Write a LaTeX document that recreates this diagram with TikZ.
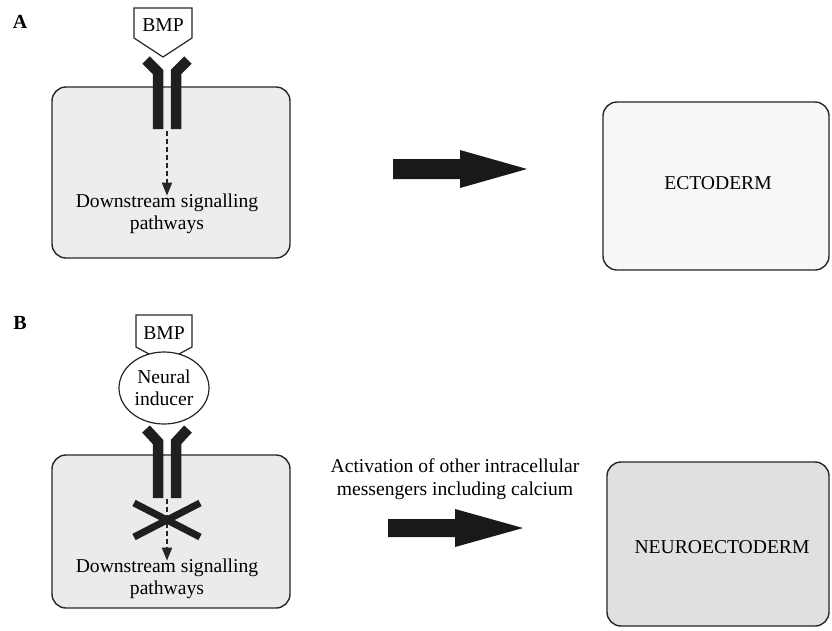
\documentclass[tikz,border=0pt]{standalone}
\usepackage{fontspec}
\setmainfont{Liberation Serif}
\usetikzlibrary{shapes.geometric,arrows.meta}
\begin{document}
\begin{tikzpicture}[x=1pt,y=-1pt,
  txt/.style={font=\fontsize{19.6}{22.5}\selectfont, align=center, inner sep=0pt},
  lbl/.style={font=\fontsize{20}{22}\selectfont\bfseries, inner sep=0pt},
  cell/.style={draw=black!85, line width=1.4pt, rounded corners=14pt, inner sep=0pt},
  rec/.style={line width=10.5pt, draw=black!88, line join=miter},
  outl/.style={draw=black!85, line width=1.2pt, fill=white},
  bigarrow/.style={fill=black!90, draw=none},
  dasharr/.style={draw=black!85, line width=1.9pt, dash pattern=on 5pt off 3pt, -{Triangle[length=13pt,width=10pt]}}
]
\useasboundingbox (0,0) rectangle (832,630);

% ---------- Panel A ----------
\node[lbl] (labA) at (20,22) {A};
\node[cell, fill=black!7, minimum width=238pt, minimum height=171pt] (cellA) at (171,172.5) {};
\node[cell, fill=black!3, minimum width=226pt, minimum height=168pt] (ectoA) at (716,186) {};
\node[txt] (ectoTxt) at (718,183) {ECTODERM};

\draw[outl] (134,8) -- (192,8) -- (192,38) -- (163,57) -- (134,38) -- cycle;
\node[txt] (bmpA) at (163,25) {BMP};

\draw[rec] (146,60) -- (158,72) -- (158,129);
\draw[rec] (188,60) -- (176,72) -- (176,129);

\coordinate (dsA) at (167,131);
\node[txt] (downA) at (167,214) {Downstream signalling\\pathways};
\draw[dasharr] (dsA) -- ([yshift=-2pt]downA.north);

\path[bigarrow] (393,159) -- (460,159) -- (460,150) -- (527,169) -- (460,188) -- (460,179) -- (393,179) -- cycle;

% ---------- Panel B ----------
\node[lbl] (labB) at (20,323) {B};
\node[cell, fill=black!8, minimum width=238pt, minimum height=153pt] (cellB) at (171,531.5) {};
\node[cell, fill=black!12, minimum width=222pt, minimum height=164pt] (neuroB) at (718,544) {};
\node[txt] (neuroTxt) at (722,547) {NEUROECTODERM};

\draw[outl] (136,315) -- (192,315) -- (192,347) -- (164,362) -- (136,347) -- cycle;
\node[txt] (bmpB) at (164,333) {BMP};
\node[outl, ellipse, minimum width=90pt, minimum height=72pt, inner sep=0pt] (ind) at (164,388) {};
\node[txt] (indTxt) at (164,388) {Neural\\inducer};

\draw[rec] (146,429) -- (158,442) -- (158,498);
\draw[rec] (188,429) -- (176,442) -- (176,498);

\coordinate (dsB) at (167,499);
\node[txt] (downB) at (167,579) {Downstream signalling\\pathways};
\draw[dasharr] (dsB) -- ([yshift=-2pt]downB.north);
\draw[line width=7pt, draw=black!88] (134,503) -- (200,537);
\draw[line width=7pt, draw=black!88] (200,503) -- (134,537);

\node[txt] (actTxt) at (455,479) {Activation of other intracellular\\messengers including calcium};
\path[bigarrow] (388,519) -- (455,519) -- (455,509) -- (523,528) -- (455,547) -- (455,537) -- (388,537) -- cycle;
\end{tikzpicture}
\end{document}
